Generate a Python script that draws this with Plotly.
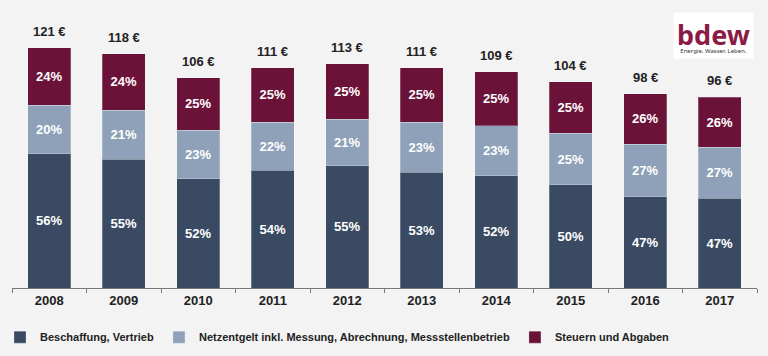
import plotly.graph_objects as go

years = ["2008", "2009", "2010", "2011", "2012", "2013", "2014", "2015", "2016", "2017"]
totals = [121, 118, 106, 111, 113, 111, 109, 104, 98, 96]
pct_beschaffung = [56, 55, 52, 54, 55, 53, 52, 50, 47, 47]
pct_netz = [20, 21, 23, 22, 21, 23, 23, 25, 27, 27]
pct_steuern = [24, 24, 25, 25, 25, 25, 25, 25, 26, 26]
series_names = ["Beschaffung, Vertrieb",
                "Netzentgelt inkl. Messung, Abrechnung, Messstellenbetrieb",
                "Steuern und Abgaben"]
colors = ["#3a4a62", "#8ea1b8", "#6b1238"]

FONT = "Liberation Sans, Arial, sans-serif"

fig = go.Figure()
sums = [a + b + c for a, b, c in zip(pct_beschaffung, pct_netz, pct_steuern)]
for name, pcts, col in zip(series_names, [pct_beschaffung, pct_netz, pct_steuern], colors):
    vals = [p / s * t for p, s, t in zip(pcts, sums, totals)]
    fig.add_trace(go.Bar(
        x=years, y=vals, name=f"<b>{name}</b>",
        marker=dict(color=col, line=dict(color="rgba(255,255,255,0.25)", width=1)),
        text=[f"<b>{p}%</b>" for p in pcts],
        textposition="inside", insidetextanchor="middle",
        textfont=dict(color="white", size=13, family=FONT),
        width=0.58, hoverinfo="skip",
    ))

for i, t in enumerate(totals):
    fig.add_annotation(x=i, y=t, xref="x", yref="y", text=f"<b>{t} €</b>", showarrow=False,
                       yanchor="bottom", yshift=7,
                       font=dict(size=13, color="#222222", family=FONT))

fig.add_annotation(
    xref="paper", yref="paper", x=0.996, y=1.07, xanchor="right", yanchor="top",
    text="<b><span style='font-size:27px;color:#8b1a44'>bdew</span></b><br><span style='font-size:6px;color:#333'>Energie. Wasser. Leben.</span>",
    showarrow=False, bgcolor="white", borderpad=3,
    font=dict(family="Noto Sans, sans-serif", size=6),
)

fig.update_layout(
    width=768, height=356,
    margin=dict(l=12, r=11, t=30, b=68, autoexpand=False),
    paper_bgcolor="#f3f3f3", plot_bgcolor="#f3f3f3",
    barmode="stack",
    uniformtext=dict(minsize=13, mode="show"),
    showlegend=True,
    legend=dict(orientation="h", x=0.0, xref="container", y=0.053, yref="container",
                xanchor="left", yanchor="middle",
                font=dict(size=11, color="#222222", family=FONT),
                itemwidth=30, traceorder="normal", bgcolor="rgba(0,0,0,0)"),
    font=dict(family=FONT),
)
fig.update_xaxes(type="category", range=[-0.5, 9.5], showline=True, linecolor="#777777", linewidth=1,
                 ticks="outside", tickson="boundaries", ticklen=4, tickcolor="#777777",
                 tickfont=dict(size=13, color="#222222", family=FONT),
                 tickprefix="<b>", ticksuffix="</b>", showgrid=False)
fig.update_yaxes(range=[0, 130], visible=False, showgrid=False)

fig.write_html(
    "out.html",
    config={"displayModeBar": False},
    post_script="document.body.style.margin='0';document.body.style.background='#f3f3f3';document.body.style.overflow='hidden';",
)
